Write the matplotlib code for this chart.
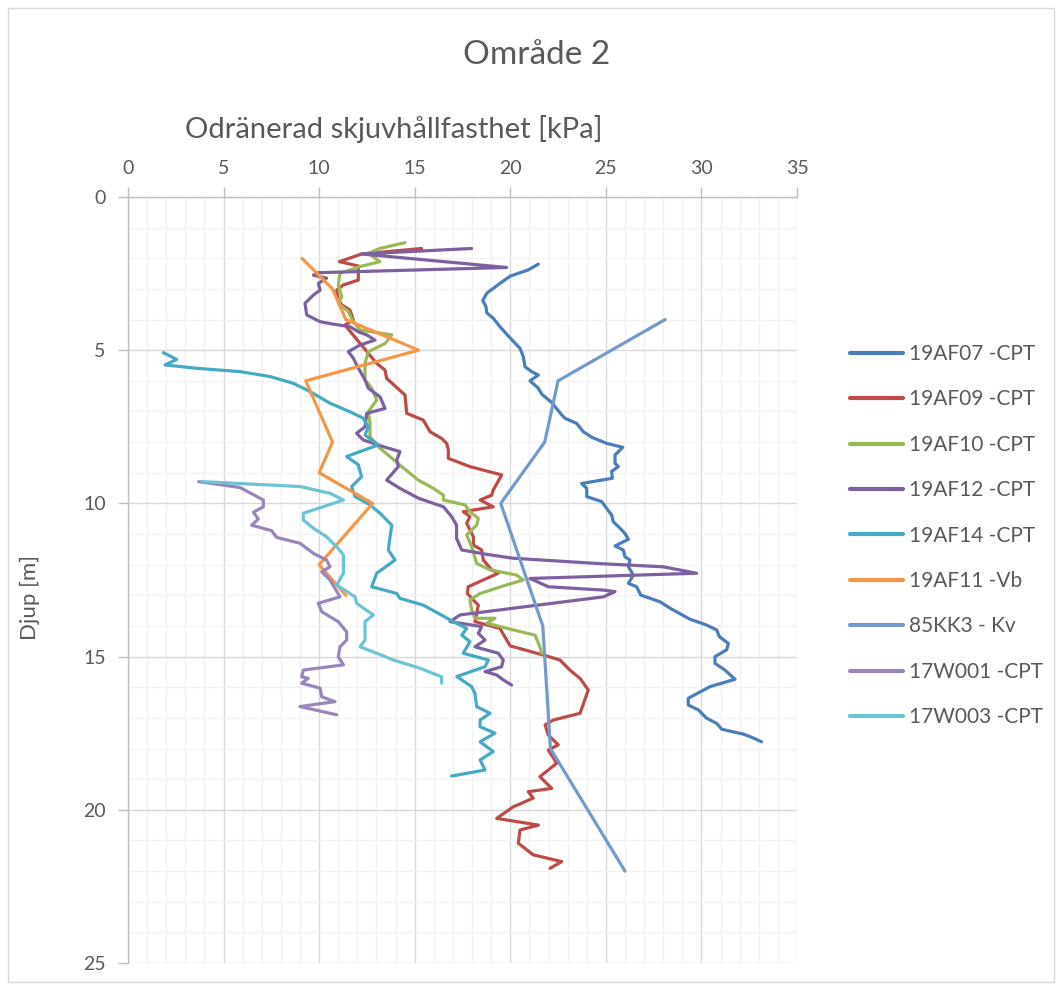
import matplotlib
matplotlib.use("Agg")
import matplotlib.pyplot as plt
from matplotlib.patches import Rectangle
from matplotlib.ticker import MultipleLocator

plt.rcParams['font.family'] = ['Lato', 'DejaVu Sans']

# --- Series data: shear strength [kPa] and depth [m] ---
af07_su = [21.47, 20.94, 20.0, 19.46, 18.77, 18.56, 18.73, 18.77, 19.11, 19.43, 19.90, 20.51, 20.68,
           20.77, 21.12, 21.47, 21.03, 21.47, 21.64, 22.17, 22.69, 22.86, 23.47, 23.82, 24.26, 25.04,
           25.88, 25.48, 25.48, 25.65, 25.30, 25.34, 23.73, 24.0, 24.0, 24.78, 25.04, 25.30, 25.39,
           25.74, 26.0, 26.18, 25.48, 25.91, 26.0, 26.26, 26.18, 26.44, 26.18, 26.61, 26.82, 27.83,
           28.36, 29.40, 30.27, 30.80, 30.94, 31.41, 31.32, 30.71, 30.71, 31.23, 31.76, 30.45, 29.31,
           29.31, 29.84, 30.27, 30.80, 31.06, 32.19, 32.54, 33.15]
af07_depth = [2.19, 2.38, 2.58, 2.82, 3.14, 3.38, 3.58, 3.78, 3.96, 4.21, 4.54, 4.94, 5.21,
              5.54, 5.70, 5.81, 6.0, 6.24, 6.43, 6.71, 7.11, 7.22, 7.39, 7.66, 7.84, 8.04,
              8.17, 8.42, 8.69, 8.80, 8.96, 9.18, 9.35, 9.51, 9.78, 9.94, 10.16, 10.38, 10.6,
              10.81, 10.98, 11.17, 11.39, 11.52, 11.74, 11.85, 12.07, 12.34, 12.61, 12.72, 12.99, 13.21,
              13.42, 13.78, 13.97, 14.13, 14.35, 14.57, 14.78, 15.0, 15.22, 15.44, 15.74, 15.98, 16.36,
              16.58, 16.74, 17.01, 17.18, 17.37, 17.53, 17.61, 17.78]

af09_su = [15.36, 12.22, 11.06, 12.05, 12.05, 11.27, 10.92, 11.0, 11.18, 11.61, 11.79, 11.35, 13.01,
           13.45, 13.53, 14.49, 14.58, 15.45, 15.80, 16.41, 16.67, 16.76, 16.76, 17.89, 19.55, 19.11,
           19.03, 18.42, 19.11, 17.54, 17.89, 17.72, 18.07, 18.07, 18.50, 18.59, 19.03, 19.37, 17.80,
           17.75, 18.15, 18.33, 18.15, 19.46, 19.99, 21.73, 22.60, 23.12, 23.65, 24.08, 23.65, 22.25,
           21.82, 21.99, 22.51, 21.99, 22.43, 21.55, 22.17, 20.94, 21.20, 20.16, 19.29, 21.47, 20.51,
           20.42, 21.20, 22.69, 22.08]
af09_depth = [1.68, 1.86, 2.11, 2.25, 2.71, 2.87, 3.04, 3.36, 3.52, 3.69, 4.01, 4.18, 5.43,
              5.65, 5.92, 6.46, 7.06, 7.28, 7.66, 7.88, 8.04, 8.26, 8.53, 8.80, 9.07, 9.56,
              9.73, 9.89, 10.11, 10.27, 10.43, 10.65, 11.09, 11.36, 11.52, 11.85, 12.17, 12.28, 12.72,
              12.94, 13.21, 13.32, 13.86, 14.08, 14.65, 14.95, 15.11, 15.44, 15.71, 16.09, 16.85, 17.07,
              17.23, 17.56, 17.88, 18.05, 18.48, 18.92, 19.30, 19.41, 19.62, 19.90, 20.28, 20.50, 20.66,
              21.09, 21.47, 21.69, 21.91]

af10_su = [14.49, 13.18, 12.57, 13.18, 12.14, 11.09, 11.0, 11.18, 11.0, 11.53, 11.79, 12.14, 13.80,
           13.45, 12.57, 12.40, 12.40, 12.75, 13.01, 12.57, 12.66, 12.66, 13.10, 14.32, 15.19, 15.98,
           16.50, 16.50, 17.63, 17.89, 18.33, 18.24, 17.72, 17.98, 18.24, 18.94, 20.33, 20.68, 19.81,
           18.42, 17.89, 17.98, 18.15, 19.20, 18.77, 20.16, 21.29, 21.55, 21.64]
af10_depth = [1.49, 1.68, 1.84, 2.11, 2.27, 2.49, 2.87, 3.25, 3.47, 3.74, 4.07, 4.34, 4.50,
              4.78, 5.05, 5.43, 5.97, 6.24, 6.63, 7.01, 7.39, 7.82, 8.15, 8.80, 9.24, 9.51,
              9.73, 9.89, 10.05, 10.27, 10.49, 10.71, 11.03, 11.41, 11.96, 12.17, 12.34, 12.50, 12.66,
              12.94, 13.15, 13.48, 13.75, 13.75, 13.91, 14.13, 14.30, 14.68, 14.90]

af12_su = [17.98, 12.22, 19.81, 9.96, 9.70, 10.39, 9.96, 10.05, 9.70, 9.26, 9.35, 10.05, 10.74,
           11.61, 12.05, 12.49, 12.92, 12.14, 11.53, 11.79, 11.96, 12.40, 12.57, 13.18, 13.45, 12.49,
           12.40, 11.96, 12.31, 13.36, 14.23, 14.06, 14.14, 13.53, 14.23, 15.19, 16.50, 16.93, 17.19,
           17.19, 17.46, 18.94, 20.16, 24.52, 28.01, 29.75, 21.03, 21.99, 24.87, 25.48, 24.87, 17.37,
           16.85, 18.50, 18.33, 18.68, 18.15, 19.37, 19.63, 19.55, 18.68, 19.29, 19.63, 20.07]
af12_depth = [1.68, 1.86, 2.30, 2.47, 2.55, 2.65, 2.82, 3.04, 3.20, 3.47, 3.85, 4.07, 4.15,
              4.23, 4.40, 4.50, 4.67, 4.83, 5.05, 5.26, 5.48, 5.97, 6.24, 6.52, 6.90, 7.06,
              7.50, 7.71, 7.93, 8.15, 8.31, 8.58, 8.80, 9.24, 9.51, 9.83, 10.11, 10.43, 10.71,
              11.14, 11.52, 11.68, 11.79, 11.96, 12.07, 12.28, 12.45, 12.72, 12.83, 12.88, 13.05, 13.64,
              13.86, 14.02, 14.24, 14.46, 14.68, 14.89, 15.11, 15.33, 15.49, 15.60, 15.76, 15.93]

af14_su = [1.85, 2.55, 1.94, 3.59, 5.86, 7.43, 8.65, 9.52, 10.57, 11.61, 12.31, 12.57, 12.40,
           13.10, 11.44, 12.05, 12.22, 11.70, 11.88, 12.66, 13.18, 13.80, 13.71, 13.62, 13.97, 13.01,
           12.75, 14.06, 14.23, 15.45, 16.24, 17.02, 17.72, 17.46, 17.89, 17.54, 18.85, 18.68, 17.20,
           17.98, 18.15, 18.24, 18.94, 18.42, 18.42, 19.20, 18.42, 19.11, 18.42, 18.68, 16.93]
af14_depth = [5.08, 5.30, 5.48, 5.59, 5.70, 5.86, 6.08, 6.35, 6.73, 7.01, 7.22, 7.50, 7.77,
              8.09, 8.47, 8.74, 9.13, 9.45, 9.78, 10.05, 10.32, 10.71, 11.09, 11.52, 11.85, 12.28,
              12.72, 12.94, 13.10, 13.32, 13.59, 13.86, 14.08, 14.30, 14.51, 14.89, 15.11, 15.33, 15.65,
              15.98, 16.20, 16.63, 16.85, 17.07, 17.29, 17.50, 17.78, 18.10, 18.37, 18.70, 18.90]

af11_su = [9.1, 10.7, 11.4, 15.2, 9.3, 10.7, 10.0, 12.8, 10.0, 11.4]
af11_depth = [2.0, 3.0, 4.0, 5.0, 6.0, 8.0, 9.0, 10.0, 12.0, 13.0]

kk3_su = [28.1, 22.5, 21.8, 19.5, 21.7, 22.1, 26.0]
kk3_depth = [4.0, 6.0, 8.0, 10.0, 14.0, 18.0, 22.0]

w001_su = [3.70, 5.86, 7.08, 7.08, 6.56, 6.82, 6.47, 7.51, 7.78, 9.0, 9.70, 10.39, 10.57,
           10.13, 10.57, 11.09, 9.96, 10.13, 10.57, 11.0, 11.44, 11.44, 11.09, 11.0, 11.27, 9.17,
           9.09, 9.43, 9.09, 10.05, 10.13, 10.83, 9.0, 10.92]
w001_depth = [9.29, 9.48, 9.89, 10.11, 10.29, 10.51, 10.71, 10.89, 11.11, 11.30, 11.63, 11.85, 12.07,
              12.23, 12.50, 13.05, 13.26, 13.53, 13.70, 13.86, 14.19, 14.46, 14.68, 15.0, 15.27, 15.44,
              15.66, 15.71, 15.87, 16.03, 16.31, 16.47, 16.63, 16.90]

w003_su = [3.90, 9.0, 10.57, 11.27, 9.17, 9.17, 9.70, 10.39, 11.0, 11.27, 11.27, 10.92, 11.88,
           11.96, 12.83, 12.40, 12.40, 12.14, 13.01, 13.88, 15.28, 16.41, 16.41]
w003_depth = [9.29, 9.45, 9.67, 9.89, 10.32, 10.54, 10.81, 11.09, 11.47, 11.68, 12.28, 12.66, 13.05,
              13.26, 13.64, 13.86, 14.46, 14.68, 14.89, 15.11, 15.38, 15.66, 15.87]

series = [
    ("19AF07 -CPT", af07_su, af07_depth, "#4A7EBB"),
    ("19AF09 -CPT", af09_su, af09_depth, "#BE4B48"),
    ("19AF10 -CPT", af10_su, af10_depth, "#98B954"),
    ("19AF12 -CPT", af12_su, af12_depth, "#7D60A0"),
    ("19AF14 -CPT", af14_su, af14_depth, "#46AAC5"),
    ("19AF11 -Vb", af11_su, af11_depth, "#F79646"),
    ("85KK3 - Kv", kk3_su, kk3_depth, "#729ACA"),
    ("17W001 -CPT", w001_su, w001_depth, "#9A85BB"),
    ("17W003 -CPT", w003_su, w003_depth, "#6CC3D6"),
]

W, H = 1058, 985
TXT = "#595959"
fig = plt.figure(figsize=(W / 100, H / 100), dpi=100)
fig.patches.append(Rectangle((8 / W, 3 / H), (W - 12) / W, (H - 11) / H,
                             transform=fig.transFigure, fill=False,
                             edgecolor="#D9D9D9", linewidth=1.0))

ax = fig.add_axes([128 / W, 1 - 963 / H, (797 - 128) / W, (963 - 197) / H])

for label, su, depth, color in series:
    ax.plot(su, depth, color=color, linewidth=2.3, label=label,
            solid_capstyle="round", solid_joinstyle="round")

ax.set_xlim(0, 35)
ax.set_ylim(25, 0)
ax.xaxis.set_major_locator(MultipleLocator(5))
ax.xaxis.set_minor_locator(MultipleLocator(1))
ax.yaxis.set_major_locator(MultipleLocator(5))
ax.yaxis.set_minor_locator(MultipleLocator(1))
ax.grid(which="major", color="#D9D9D9", linewidth=1.0)
ax.grid(which="minor", color="#F2F2F2", linewidth=1.0)
ax.set_axisbelow(True)

ax.xaxis.tick_top()
ax.tick_params(axis="both", which="major", length=7, width=1, color="#BFBFBF",
               labelcolor=TXT, labelsize=14)
ax.tick_params(axis="x", which="major", pad=7.5)
ax.tick_params(axis="y", which="major", pad=9)
ax.tick_params(axis="both", which="minor", length=0)
for side in ("right", "bottom"):
    ax.spines[side].set_visible(False)
for side in ("left", "top"):
    ax.spines[side].set_color("#BFBFBF")
    ax.spines[side].set_linewidth(1.0)

# Axis titles and chart title
fig.text(394 / W, 1 - 129 / H, "Odränerad skjuvhållfasthet [kPa]", ha="center", va="center",
         fontsize=21, color=TXT)
fig.text(30 / W, 1 - 597 / H, "Djup [m]", ha="center", va="center", rotation=90,
         fontsize=16, color=TXT)
fig.text(537 / W, 1 - 55 / H, "Område 2", ha="center", va="center",
         fontsize=24, color=TXT)

leg = ax.legend(loc="upper left", bbox_to_anchor=(850 / W, 1 - 344 / H),
                bbox_transform=fig.transFigure, frameon=False, fontsize=15,
                labelcolor=TXT, handlelength=2.55, handletextpad=0.3,
                labelspacing=1.22, borderaxespad=0, borderpad=0)
for h in leg.get_lines():
    h.set_linewidth(3)

fig.savefig("out.png", dpi=100)
